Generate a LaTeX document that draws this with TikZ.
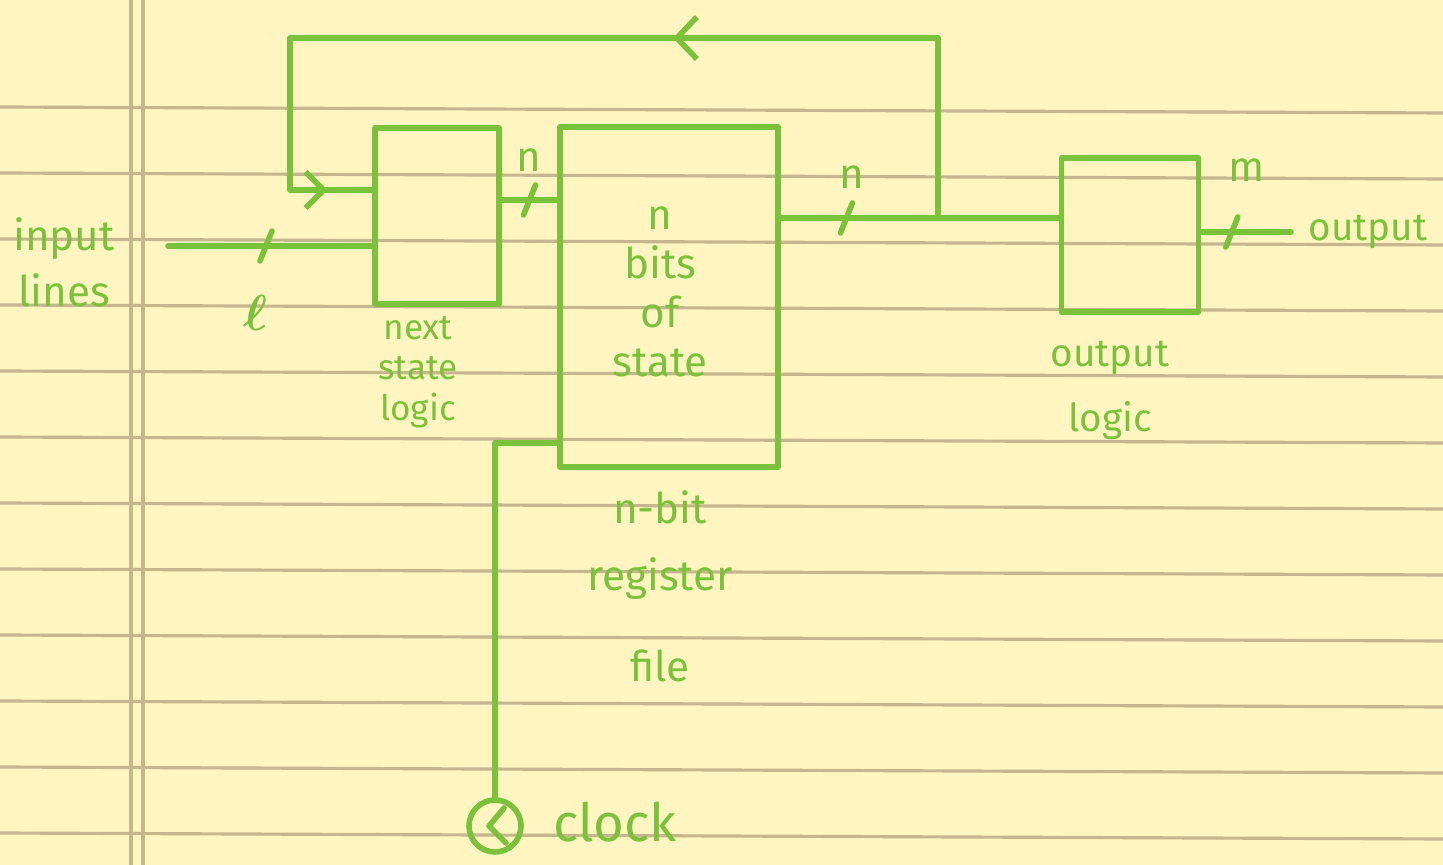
\documentclass[tikz,border=0pt]{standalone}
\usepackage{fontspec}
\setsansfont{Fira Sans}
\usetikzlibrary{arrows.meta,decorations.markings}

\definecolor{paper}{RGB}{255,245,192}
\definecolor{rule}{RGB}{198,182,142}
\definecolor{ink}{RGB}{122,194,58}

\begin{document}
\begin{tikzpicture}[x=0.01cm,y=-0.01cm,line width=1.6pt,line cap=round,line join=round]
\tikzset{
  wire/.style={draw=ink},
  block/.style={draw=ink,rectangle,inner sep=0pt},
  hand/.style={text=ink,font=\sffamily\fontsize{12}{14}\selectfont,inner sep=0pt,align=center},
  bus/.style={postaction={decorate},decoration={markings,
    mark=at position #1 with {\draw[ink] (-6,15) -- (6,-15);}}},
  fbtips/.style={postaction={decorate},decoration={markings,
    mark=at position 0.419 with {\arrow[ink]{Straight Barb[length=0.2cm,width=0.42cm]}},
    mark=at position 0.958 with {\arrow[ink]{Straight Barb[length=0.18cm,width=0.36cm]}}}}
}
% ---------- ruled paper ----------
\fill[paper] (0,0) rectangle (1443,865);
\useasboundingbox (0,0) rectangle (1443,865);
\foreach \k in {0,...,11}
  \draw[rule,line width=0.9pt] (0,{107+66*\k}) -- (1443,{113+66*\k});
\draw[rule,line width=0.9pt] (131,0) -- (131,865);
\draw[rule,line width=0.9pt] (143,0) -- (143,865);
% ---------- blocks ----------
\node[block,minimum width=1.24cm,minimum height=1.76cm] (nsl) at (437,216) {};
\node[block,minimum width=2.18cm,minimum height=3.40cm] (reg) at (669,297) {};
\node[block,minimum width=1.37cm,minimum height=1.54cm] (outl) at (1130,235) {};
\node[circle,draw=ink,minimum size=0.52cm,inner sep=0pt] (clk) at (495,826) {};
% ---------- texts ----------
\node[hand,font=\sffamily\fontsize{12}{16}\selectfont] (inlines) at (64,262) {input\\lines};
\node[hand] (bits) at (660,292) {n\\bits\\of\\state};
\node[hand,font=\sffamily\fontsize{10}{11.5}\selectfont] (nsltxt) at (418,372) {next\\state\\logic};
\node[hand,anchor=north,font=\sffamily\fontsize{12}{19}\selectfont] (regtxt) at (660,488) {n-bit\\register\\[7pt]file};
\node[hand,anchor=north,font=\sffamily\fontsize{11}{18.5}\selectfont] (outtxt) at (1110,338) {output\\logic};
\node[hand,font=\sffamily\fontsize{11}{13}\selectfont,inner sep=0.15cm] (outlines) at (1368,232) {output};
\node[hand,font=\sffamily\fontsize{15}{17}\selectfont] (clktxt) at (615,822) {clock};
% bus widths
\node[hand,font=\fontsize{14}{16}\selectfont\boldmath] (wl) at (255,313) {$\ell$};
\node[hand] (wn1) at (529,160) {n};
\node[hand] (wn2) at (852,177) {n};
\node[hand] (wm) at (1247,170) {m};
% ---------- wires ----------
\coordinate (inp) at (168,246);
\coordinate (nrow) at (0,200);
\coordinate (qrow) at (0,218);
\coordinate (fb) at (938,218);
\coordinate (fbr) at (938,38);
\coordinate (fbl) at (290,38);
\coordinate (fbd) at (290,190);
\draw[wire,bus=0.48] (inp) -- (inp -| nsl.west);
\draw[wire,bus=0.5] (nsl.east |- nrow) -- (reg.west |- nrow);
\draw[wire,bus=0.236] (reg.east |- qrow) -- (outl.west |- qrow);
\draw[wire,bus=0.34] (outl.east |- outlines) -- (outlines.west);
% state fed back to the next state logic
\draw[wire,fbtips] (fb) -- (fbr) -- (fbl) -- (fbd) -- (fbd -| nsl.west);
% clock
\draw[wire] (clk) |- ([yshift=0.27cm]reg.south west);
\draw[wire] ([shift={(9,-18)}]clk.center) -- ([shift={(-6,0)}]clk.center) -- ([shift={(11,17)}]clk.center);
\end{tikzpicture}
\end{document}
